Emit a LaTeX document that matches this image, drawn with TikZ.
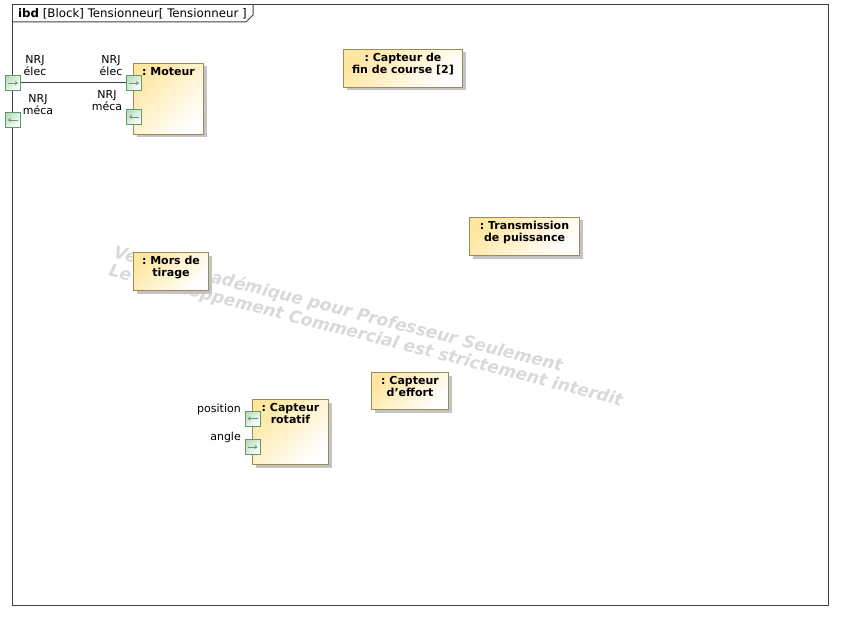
\documentclass[tikz,border=0pt]{standalone}
\usepackage{fontspec}
\setmainfont{DejaVu Sans}
\frenchspacing
\usetikzlibrary{positioning,shadows,arrows.meta}
\definecolor{blockyellow}{HTML}{FFE7A2}
\definecolor{blockborder}{HTML}{9C8B58}
\definecolor{blockshadow}{HTML}{C4C4C4}
\definecolor{portborder}{HTML}{5A9B6A}
\definecolor{portfill}{HTML}{C2DCC4}
\definecolor{arrowgreen}{HTML}{5E9E6C}
\definecolor{framegray}{HTML}{404040}
\tikzset{
  frame/.style={draw=framegray, line width=1pt},
  conn/.style={draw=framegray, line width=1pt},
  block/.style={rectangle, draw=blockborder, line width=1pt, top color=blockyellow, bottom color=white, shading angle=45, inner sep=0pt, anchor=north west, drop shadow={shadow xshift=3pt, shadow yshift=-3pt, fill=blockshadow, opacity=1}},
  blocktitle/.style={font=\fontsize{11}{12}\selectfont\bfseries, align=center, inner sep=1pt, anchor=north},
  port/.style={rectangle, draw=portborder, line width=1pt, top color=portfill, bottom color=white, shading angle=45, minimum size=15pt, inner sep=0pt},
  portarrow/.style={draw=arrowgreen, line width=0.7pt, -{Stealth[length=3pt,width=4pt]}},
  portR/.style={port, path picture={\draw[portarrow] ([xshift=-5pt]path picture bounding box.center) -- ([xshift=5pt]path picture bounding box.center);}},
  portL/.style={port, path picture={\draw[portarrow] ([xshift=5pt]path picture bounding box.center) -- ([xshift=-5pt]path picture bounding box.center);}},
  portlabel/.style={font=\fontsize{11}{12}\selectfont, align=center, inner sep=0pt},
  watermark/.style={font=\fontsize{17}{18.5}\selectfont\bfseries\itshape, text=gray!30, align=left, inner sep=0pt}
}
\begin{document}
\begin{tikzpicture}[x=1pt,y=-1pt]
        \useasboundingbox (0,0) rectangle (842,620);
        % frame
        \draw[frame] (12,5) rectangle (828,605);
        \draw[frame] (12,22) -- (246,22) -- (253,15) -- (253,5);
        \node[anchor=west, font=\fontsize{11.8}{12}\selectfont, inner sep=0pt] (header) at (18,13.5) {\textbf{ibd} [Block] Tensionneur[ Tensionneur ]};
        % watermark
        \node[watermark, anchor=north west, rotate=-14.3] (wm) at (116,244) {Version Académique pour Professeur Seulement\\Le Développement Commercial est strictement interdit};
        % parts
        \node[block, minimum width=70pt, minimum height=71pt] (moteur) at (133,63) {};
        \node[blocktitle, below=3pt of moteur.north] (moteur-t) {: Moteur};
        \node[block, minimum width=119pt, minimum height=38pt] (fincourse) at (343,49) {};
        \node[blocktitle, below=3pt of fincourse.north] (fincourse-t) {: Capteur de\\fin de course [2]};
        \node[block, minimum width=110pt, minimum height=38pt] (transmission) at (469,217) {};
        \node[blocktitle, below=3pt of transmission.north] (transmission-t) {: Transmission\\de puissance};
        \node[block, minimum width=75pt, minimum height=38pt] (mors) at (133,252) {};
        \node[blocktitle, below=3pt of mors.north] (mors-t) {: Mors de\\tirage};
        \node[block, minimum width=77pt, minimum height=37pt] (effort) at (371,372) {};
        \node[blocktitle, below=3pt of effort.north] (effort-t) {: Capteur\\d\symbol{39}effort};
        \node[block, minimum width=76pt, minimum height=65pt] (rotatif) at (252,399) {};
        \node[blocktitle, below=3pt of rotatif.north] (rotatif-t) {: Capteur\\rotatif};
        % ports
        \node[portR] (ext-elec) at (13,83) {};
        \node[portL] (ext-meca) at (13,120) {};
        \node[portR] (mot-elec) at (134,83) {};
        \node[portL] (mot-meca) at (134,117) {};
        \node[portL] (rot-pos) at (252.5,418.5) {};
        \node[portR] (rot-ang) at (252.5,447) {};
        % port names
        \node[portlabel] (ext-elec-l) at (35,66) {NRJ\\élec};
        \node[portlabel] (ext-meca-l) at (38,105) {NRJ\\méca};
        \node[portlabel] (mot-elec-l) at (111,66) {NRJ\\élec};
        \node[portlabel] (mot-meca-l) at (107,101) {NRJ\\méca};
        \node[portlabel, anchor=east] (rot-pos-l) at (241,409) {position};
        \node[portlabel, anchor=east] (rot-ang-l) at (241,437) {angle};
        % connector
        \draw[conn] (ext-elec) -- (mot-elec);
\end{tikzpicture}
\end{document}
